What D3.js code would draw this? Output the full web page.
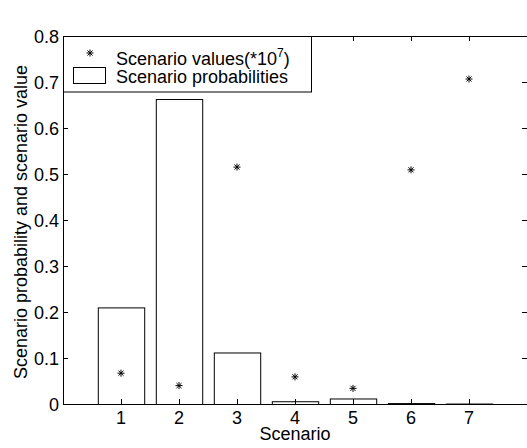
<!DOCTYPE html>
<html>
<head>
<meta charset="utf-8">
<script src="https://cdn.jsdelivr.net/npm/d3@7"></script>
<style>
  body { margin: 0; background: #fff; }
  text { font-family: "Liberation Sans", Arial, sans-serif; fill: #000; }
</style>
</head>
<body>
<div id="chart"></div>
<script>
// dados
const scenarios = [1, 2, 3, 4, 5, 6, 7];
const probabilities = [0.210, 0.663, 0.112, 0.006, 0.012, 0.002, 0.001];
const scenarioValues = [0.067, 0.040, 0.515, 0.059, 0.034, 0.509, 0.7065];
const xTicks = [1, 2, 3, 4, 5, 6, 7];
const yTicks = [0, 0.1, 0.2, 0.3, 0.4, 0.5, 0.6, 0.7, 0.8];

const W = 527, H = 448;
const M = { left: 63, right: 527, top: 36, bottom: 404 };
const FS = '18px';

const svg = d3.select('#chart').append('svg')
    .attr('width', W).attr('height', H);

const x = d3.scaleLinear().domain([0, 8]).range([M.left, M.right]);
const y = d3.scaleLinear().domain([0, 0.8]).range([M.bottom, M.top]);
const barW = x(0.8) - x(0);

// barras
svg.selectAll('.bar')
    .data(scenarios)
    .enter().append('rect')
    .attr('class', 'bar')
    .attr('x', (d) => x(d) - barW / 2 + 0.5)
    .attr('y', (d, i) => y(probabilities[i]) + 0.5)
    .attr('width', barW)
    .attr('height', (d, i) => y(0) - y(probabilities[i]))
    .attr('fill', '#fff')
    .attr('stroke', '#000')
    .attr('stroke-width', 1);

// marcador asterisco
function star(g, cx, cy, r) {
    const d = r * 0.72;
    const p = `M${cx - r},${cy}L${cx + r},${cy}M${cx},${cy - r}L${cx},${cy + r}` +
        `M${cx - d},${cy - d}L${cx + d},${cy + d}M${cx - d},${cy + d}L${cx + d},${cy - d}`;
    g.append('path').attr('d', p).attr('stroke', '#000').attr('stroke-width', 1).attr('fill', 'none');
}

const stars = svg.append('g');
scenarios.forEach((s, i) => star(stars, x(s), y(scenarioValues[i]), 3.5));

// eixos
const axes = svg.append('g').attr('stroke', '#000').attr('stroke-width', 1).attr('fill', 'none');
axes.append('rect')
    .attr('x', M.left + 0.5).attr('y', M.top + 0.5)
    .attr('width', M.right - M.left).attr('height', M.bottom - M.top);

const tl = 5;
xTicks.forEach((t) => {
    const px = Math.round(x(t)) + 0.5;
    axes.append('line').attr('x1', px).attr('x2', px).attr('y1', M.bottom).attr('y2', M.bottom - tl);
    axes.append('line').attr('x1', px).attr('x2', px).attr('y1', M.top).attr('y2', M.top + tl);
});
yTicks.forEach((t) => {
    const py = Math.round(y(t)) + 0.5;
    axes.append('line').attr('x1', M.left).attr('x2', M.left + tl).attr('y1', py).attr('y2', py);
    axes.append('line').attr('x1', M.right - tl).attr('x2', M.right).attr('y1', py).attr('y2', py);
});

// rótulos dos ticks
svg.selectAll('.xt').data(xTicks).enter().append('text')
    .attr('x', (d) => x(d)).attr('y', 424)
    .attr('text-anchor', 'middle').style('font-size', FS)
    .text((d) => d);

svg.selectAll('.yt').data(yTicks).enter().append('text')
    .attr('x', M.left - 4).attr('y', (d) => y(d) + 6.5)
    .attr('text-anchor', 'end').style('font-size', FS)
    .text((d) => d === 0 ? '0' : d.toFixed(1));

svg.append('text')
    .attr('x', (M.left + M.right) / 2).attr('y', 440)
    .attr('text-anchor', 'middle').style('font-size', FS)
    .text('Scenario');

svg.append('text')
    .attr('transform', `translate(27,${(M.top + M.bottom) / 2 + 2}) rotate(-90)`)
    .attr('text-anchor', 'middle').style('font-size', FS)
    .text('Scenario probability and scenario value');

// legenda
const leg = svg.append('g');
leg.append('rect')
    .attr('x', M.left + 0.5).attr('y', M.top + 0.5)
    .attr('width', 311 - M.left).attr('height', 91.5 - M.top)
    .attr('fill', '#fff').attr('stroke', '#000');
star(leg, 90, 53, 3.5);
leg.append('rect')
    .attr('x', 73.5).attr('y', 67.5).attr('width', 32).attr('height', 16)
    .attr('fill', '#fff').attr('stroke', '#000');
const t1 = leg.append('text').attr('x', 116).attr('y', 65).style('font-size', FS);
t1.append('tspan').text('Scenario values(*10');
t1.append('tspan').attr('dy', -8).style('font-size', '12px').text('7');
t1.append('tspan').attr('dy', 8).text(')');
leg.append('text').attr('x', 116).attr('y', 83).style('font-size', FS)
    .text('Scenario probabilities');
</script>
</body>
</html>
